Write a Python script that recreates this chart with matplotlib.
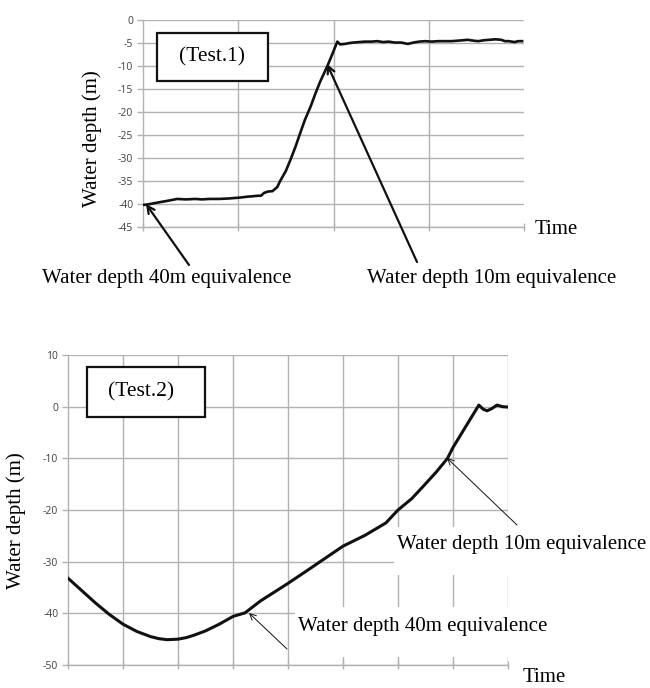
import matplotlib
matplotlib.use("Agg")
import matplotlib.pyplot as plt
from matplotlib.patches import Rectangle
from matplotlib.transforms import IdentityTransform

plt.rcParams['axes.unicode_minus'] = False

# ---------------- data ----------------
top_t = [0.00, 0.05, 0.15, 0.26, 0.36, 0.45, 0.55, 0.62, 0.70, 0.80, 0.90, 1.02, 1.10, 1.16, 1.21,
         1.24, 1.27, 1.31, 1.36, 1.41, 1.44, 1.50, 1.55, 1.60, 1.65, 1.70, 1.76, 1.81, 1.86, 1.90,
         1.94, 1.99, 2.04, 2.07, 2.12, 2.17, 2.21, 2.27, 2.33, 2.40, 2.46, 2.52, 2.58, 2.64, 2.71,
         2.78, 2.84, 2.90, 2.96, 3.03, 3.10, 3.17, 3.24, 3.30, 3.36, 3.41, 3.47, 3.52, 3.58, 3.64,
         3.70, 3.76, 3.80, 3.84, 3.90, 3.94, 3.98]
top_y = [-40.2, -40.1, -39.7, -39.3, -38.9, -39.0, -38.9, -39.0, -38.9, -38.9, -38.8, -38.6, -38.4, -38.3, -38.2,
         -38.2, -37.6, -37.3, -37.2, -36.3, -35.0, -32.8, -30.3, -27.6, -24.6, -21.7, -18.8, -16.0, -13.4, -11.6,
         -9.8, -7.3, -4.7, -5.3, -5.2, -5.0, -4.9, -4.8, -4.7, -4.7, -4.6, -4.8, -4.7, -4.9, -4.9,
         -5.2, -4.9, -4.7, -4.6, -4.7, -4.6, -4.6, -4.6, -4.5, -4.4, -4.3, -4.5, -4.6, -4.4, -4.3,
         -4.2, -4.3, -4.6, -4.6, -4.8, -4.6, -4.6]

bot_t = [0.00, 0.25, 0.50, 0.75, 1.00, 1.25, 1.50, 1.65, 1.80, 2.00, 2.15, 2.30, 2.50, 2.75, 3.00,
         3.22, 3.50, 3.75, 4.00, 4.35, 4.64, 5.00, 5.40, 5.78, 6.00, 6.25, 6.46, 6.70, 6.90, 7.00,
         7.20, 7.47, 7.55, 7.62, 7.70, 7.80, 7.90, 8.02]
bot_y = [-33.2, -35.6, -38.0, -40.2, -42.1, -43.5, -44.5, -44.9, -45.1, -45.0, -44.7, -44.2, -43.4, -42.1, -40.6,
         -39.9, -37.6, -35.9, -34.2, -31.7, -29.6, -27.0, -24.9, -22.5, -20.0, -17.8, -15.4, -12.6, -10.0, -7.9,
         -4.4, 0.3, -0.5, -0.8, -0.4, 0.3, 0.0, -0.1]

top_yticks = [0, -5, -10, -15, -20, -25, -30, -35, -40, -45]
bot_yticks = [10, 0, -10, -20, -30, -40, -50]

label_ylabel = "Water depth (m)"
label_time = "Time"
label_40 = "Water depth 40m equivalence"
label_10 = "Water depth 10m equivalence"

W, H = 650, 688
fig = plt.figure(figsize=(6.5, 6.88), dpi=100)

serif = ['Liberation Serif', 'DejaVu Serif']
sans = ['Open Sans', 'DejaVu Sans']
grid_c = '#b2b2b2'
tick_c = '#404040'

def fp(x, y):
    """image pixel (top-left origin) -> figure pixel"""
    return (x, H - y)

def style_axes(ax, xlim, ylim, yticks, xgrid):
    ax.set_xlim(*xlim)
    ax.set_ylim(*ylim)
    ax.set_yticks(yticks)
    ax.set_yticklabels([str(v) for v in yticks], fontsize=7.5, color=tick_c, family=sans)
    ax.set_xticks(list(range(int(xlim[0]), int(xlim[1]) + 1)))
    ax.set_xticklabels([])
    for s in ['top', 'right']:
        ax.spines[s].set_visible(False)
    for s in ['left', 'bottom']:
        ax.spines[s].set_color(grid_c)
        ax.spines[s].set_linewidth(1.0)
    ax.tick_params(axis='both', color=grid_c, length=4, width=1.0, pad=3)
    ax.tick_params(axis='x', direction='inout', length=6)
    for v in yticks:
        ax.axhline(v, color=grid_c, lw=1.0, zorder=0.8)
    for v in xgrid:
        ax.axvline(v, color=grid_c, lw=1.0, zorder=0.5)

def white_rect(ax, x0, y_top, w, h):
    x, y = fp(x0, y_top + h)
    ax.add_patch(Rectangle((x, y), w, h, transform=IdentityTransform(), fc='white', ec='none',
                           zorder=1.5, clip_on=False))

# ---------------- top chart ----------------
ax1 = fig.add_axes([143 / W, 1 - 227 / H, (524 - 143) / W, (227 - 20) / H])
style_axes(ax1, (0, 4), (-45, 0), top_yticks, [1, 2, 3])
ax1.plot(top_t, top_y, color='#111111', lw=1.9, zorder=3, solid_joinstyle='round')

# (Test.1) box
fig.patches.append(Rectangle(fp(157, 81), 111, 48, transform=None, fc='white', ec='#111111', lw=1.6, zorder=5))
fig.text(212 / W, 1 - 57 / H, "(Test.1)", family=serif, fontsize=15.5,
         ha='center', va='center', zorder=6)

arrow_thick = dict(arrowstyle='->', color='#111111', lw=1.6, mutation_scale=13, shrinkA=0, shrinkB=0)
ax1.annotate("", xy=fp(146, 204), xycoords='figure pixels', xytext=fp(189, 265),
             textcoords='figure pixels', arrowprops=arrow_thick, annotation_clip=False)
ax1.annotate("", xy=fp(327, 64), xycoords='figure pixels', xytext=fp(417, 262),
             textcoords='figure pixels', arrowprops=arrow_thick, annotation_clip=False)

fig.text(167 / W, 1 - 278 / H, label_40, family=serif, fontsize=15, ha='center', va='center')
fig.text(492 / W, 1 - 278 / H, label_10, family=serif, fontsize=15, ha='center', va='center')
fig.text(556 / W, 1 - 230 / H, label_time, family=serif, fontsize=15, ha='center', va='center')
fig.text(92 / W, 1 - 139 / H, label_ylabel, family=serif, fontsize=15, ha='center', va='center',
         rotation=90)

# ---------------- bottom chart ----------------
ax2 = fig.add_axes([68 / W, 1 - 665 / H, (508 - 68) / W, (665 - 355) / H])
style_axes(ax2, (0, 8), (-50, 10), bot_yticks, [1, 2, 3, 4, 5, 6, 7, 8])
ax2.plot(bot_t, bot_y, color='#111111', lw=2.2, zorder=3, solid_joinstyle='round')

# white areas behind the labels (hide gridlines, below the curve)
white_rect(ax2, 394, 527, 256, 48)
white_rect(ax2, 295, 607, 260, 50)

# (Test.2) box
fig.patches.append(Rectangle(fp(87, 417), 118, 50, transform=None, fc='white', ec='#111111', lw=1.6, zorder=5))
fig.text(141 / W, 1 - 392 / H, "(Test.2)", family=serif, fontsize=15.5, ha='center', va='center', zorder=6)

arrow_thin = dict(arrowstyle='->', color='#111111', lw=0.7, mutation_scale=11, shrinkA=0, shrinkB=0)
ax2.annotate("", xy=fp(447, 458), xycoords='figure pixels', xytext=fp(517, 525),
             textcoords='figure pixels', arrowprops=arrow_thin, annotation_clip=False)
ax2.annotate("", xy=fp(249, 613), xycoords='figure pixels', xytext=fp(287, 649),
             textcoords='figure pixels', arrowprops=arrow_thin, annotation_clip=False)

fig.text(522 / W, 1 - 545 / H, label_10, family=serif, fontsize=15, ha='center', va='center', zorder=7)
fig.text(423 / W, 1 - 627 / H, label_40, family=serif, fontsize=15, ha='center', va='center', zorder=7)
fig.text(544 / W, 1 - 678 / H, label_time, family=serif, fontsize=15, ha='center', va='center')
fig.text(16 / W, 1 - 521 / H, label_ylabel, family=serif, fontsize=15, ha='center', va='center',
         rotation=90)

fig.savefig("out.png", dpi=100)
